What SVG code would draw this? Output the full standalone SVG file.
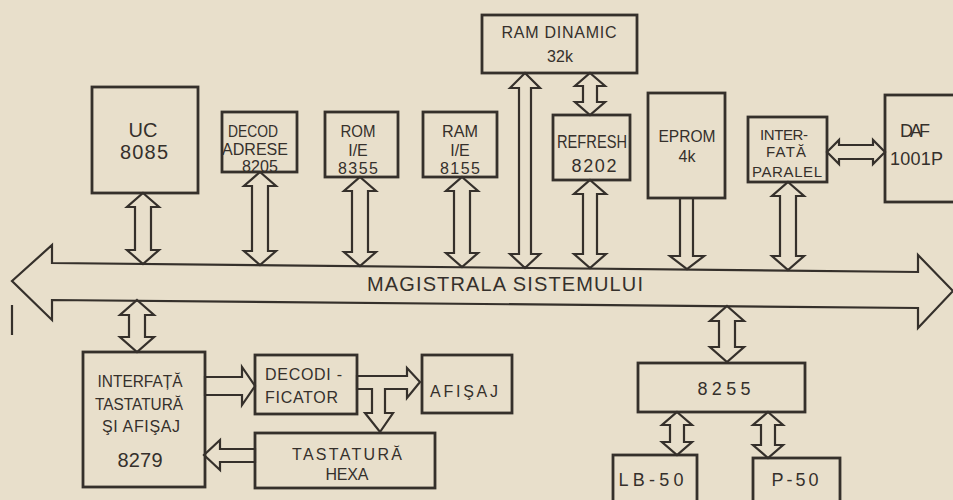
<svg xmlns="http://www.w3.org/2000/svg" width="953" height="500" viewBox="0 0 953 500">
<style>
.bg{fill:#e8dfcb}
.box{fill:none;stroke:#35302b;stroke-width:2.8}
.arr{fill:none;stroke:#35302b;stroke-width:2.2;stroke-linejoin:miter}
text{font-family:"Liberation Sans","DejaVu Sans",sans-serif;fill:#35302b;text-anchor:middle;font-size:16px}
.s{text-anchor:start}
.big{font-size:20px}
.med{font-size:18px}
.sm{font-size:15px}
</style>
<rect class="bg" x="0" y="0" width="953" height="500"/>

<g id="connectors">
  <polygon id="bus" class="arr" points="12,281 52,245 52,263 918,272 918,255 953,291 918,328 918,308 52,300 52,320"/>
  <polygon class="arr" points="143,193 159,207 151,207 151,250 159,250 143,264 127,250 135,250 135,207 127,207"/>
  <polygon class="arr" points="260,172 276,186 268,186 268,251 276,251 260,265 244,251 252,251 252,186 244,186"/>
  <polygon class="arr" points="360,177 376,191 368,191 368,252 376,252 360,266 344,252 352,252 352,191 344,191"/>
  <polygon class="arr" points="462,177 478,191 470,191 470,253 478,253 462,267 446,253 454,253 454,191 446,191"/>
  <polygon class="arr" points="525,73 540,88 531,88 531,254 540,254 525,268 510,254 519,254 519,88 510,88"/>
  <polygon class="arr" points="590,73 605,86 597,86 597,102 605,102 590,115 575,102 583,102 583,86 575,86"/>
  <polygon class="arr" points="590,180 606,194 597,194 597,254 606,254 590,268 574,254 583,254 583,194 574,194"/>
  <polygon class="arr" points="680,198 693,198 693,256 704,256 687,269 670,256 680,256"/>
  <polygon class="arr" points="788,182 804,196 796,196 796,256 804,256 788,270 772,256 780,256 780,196 772,196"/>
  <polygon class="arr" points="827,152 839,140 839,145 873,145 873,140 885,152 873,164 873,159 839,159 839,164"/>
  <polygon class="arr" points="727,306 744,321 735,321 735,347 744,347 727,362 710,347 719,347 719,321 710,321"/>
  <polygon class="arr" points="137,300 154,315 145,315 145,337 154,337 137,352 120,337 129,337 129,315 120,315"/>
  <polygon class="arr" points="677,412 692,425 684,425 684,442 692,442 677,455 662,442 670,442 670,425 662,425"/>
  <polygon class="arr" points="768,412 783,425 775,425 775,445 783,445 768,458 753,445 761,445 761,425 753,425"/>
  <polygon class="arr" points="205,377 242,377 242,367 255,386 242,405 242,395 205,395"/>
  <polygon class="arr" points="255,449 220,449 220,440 204,455 220,470 220,462 255,462"/>
  <polygon class="arr" points="357,376 407,376 407,368 420,382 407,398 407,389 385,389 385,413 393,413 380,432 365,413 372,413 372,389 357,389"/>
  <line class="arr" x1="12" y1="305" x2="12" y2="335"/>
</g>

<text x="367" y="291" class="s big" textLength="276">MAGISTRALA SISTEMULUI</text>

<g id="uc">
  <rect class="box" x="92" y="87" width="106" height="106"/>
  <text x="143" y="137" class="big">UC</text>
  <text x="144" y="159" class="big" textLength="48">8085</text>
</g>
<g id="decod">
  <rect class="box" x="222" y="112" width="75" height="60"/>
  <text x="253" y="137" textLength="50" lengthAdjust="spacingAndGlyphs">DECOD</text>
  <text x="255" y="155" textLength="66" lengthAdjust="spacingAndGlyphs">ADRESE</text>
  <text x="260" y="172" textLength="36">8205</text>
</g>
<g id="rom">
  <rect class="box" x="325" y="112" width="73" height="65"/>
  <text x="358" y="137" textLength="35" lengthAdjust="spacingAndGlyphs">ROM</text>
  <text x="358" y="156">I/E</text>
  <text x="358" y="174" textLength="40">8355</text>
</g>
<g id="ram">
  <rect class="box" x="423" y="112" width="74" height="65"/>
  <text x="460" y="137" textLength="36" lengthAdjust="spacingAndGlyphs">RAM</text>
  <text x="460" y="156">I/E</text>
  <text x="460" y="174" textLength="40">8155</text>
</g>
<g id="ramdinamic">
  <rect class="box" x="482" y="15" width="155" height="58"/>
  <text x="559" y="38" textLength="115">RAM DINAMIC</text>
  <text x="560" y="62">32k</text>
</g>
<g id="refresh">
  <rect class="box" x="553" y="115" width="77" height="65"/>
  <text x="592" y="148" class="med" textLength="70" lengthAdjust="spacingAndGlyphs">REFRESH</text>
  <text x="594" y="172" class="med" textLength="45">8202</text>
</g>
<g id="eprom">
  <rect class="box" x="648" y="93" width="77" height="105"/>
  <text x="687" y="142" textLength="57" lengthAdjust="spacingAndGlyphs">EPROM</text>
  <text x="687" y="162">4k</text>
</g>
<g id="interfata-paralel">
  <rect class="box" x="748" y="117" width="79" height="65"/>
  <text x="784" y="140" class="sm" textLength="48">INTER-</text>
  <text x="786" y="157" class="sm" textLength="40">FATĂ</text>
  <text x="787" y="177" class="sm" textLength="70">PARALEL</text>
</g>
<g id="daf">
  <rect class="box" x="885" y="95" width="90" height="107"/>
  <text x="900" y="137" class="s med" textLength="30">DAF</text>
  <text x="890" y="165" class="s med" textLength="53">1001P</text>
</g>
<g id="interfata-tastatura">
  <rect class="box" x="83" y="352" width="122" height="135"/>
  <text x="140" y="387" textLength="85" lengthAdjust="spacingAndGlyphs">INTERFAȚĂ</text>
  <text x="139" y="410" textLength="88" lengthAdjust="spacingAndGlyphs">TASTATURĂ</text>
  <text x="141" y="432" textLength="78">ŞI AFIŞAJ</text>
  <text x="140" y="467" class="big" textLength="45">8279</text>
</g>
<g id="decodificator">
  <rect class="box" x="255" y="355" width="102" height="59"/>
  <text x="265" y="380" class="s" textLength="77">DECODI -</text>
  <text x="265" y="403" class="s" textLength="73">FICATOR</text>
</g>
<g id="afisaj">
  <rect class="box" x="422" y="355" width="90" height="58"/>
  <text x="430" y="397" class="s" textLength="68">AFIŞAJ</text>
</g>
<g id="tastatura-hexa">
  <rect class="box" x="255" y="433" width="180" height="55"/>
  <text x="347" y="460" textLength="110">TASTATURĂ</text>
  <text x="347" y="480" textLength="43">HEXA</text>
</g>
<g id="n8255">
  <rect class="box" x="638" y="363" width="167" height="49"/>
  <text x="724" y="395" class="med" textLength="53">8255</text>
</g>
<g id="lb50">
  <rect class="box" x="613" y="455" width="84" height="60"/>
  <text x="651" y="486" class="med" textLength="65">LB-50</text>
</g>
<g id="p50">
  <rect class="box" x="753" y="458" width="87" height="60"/>
  <text x="795" y="486" class="med" textLength="47">P-50</text>
</g>
</svg>
